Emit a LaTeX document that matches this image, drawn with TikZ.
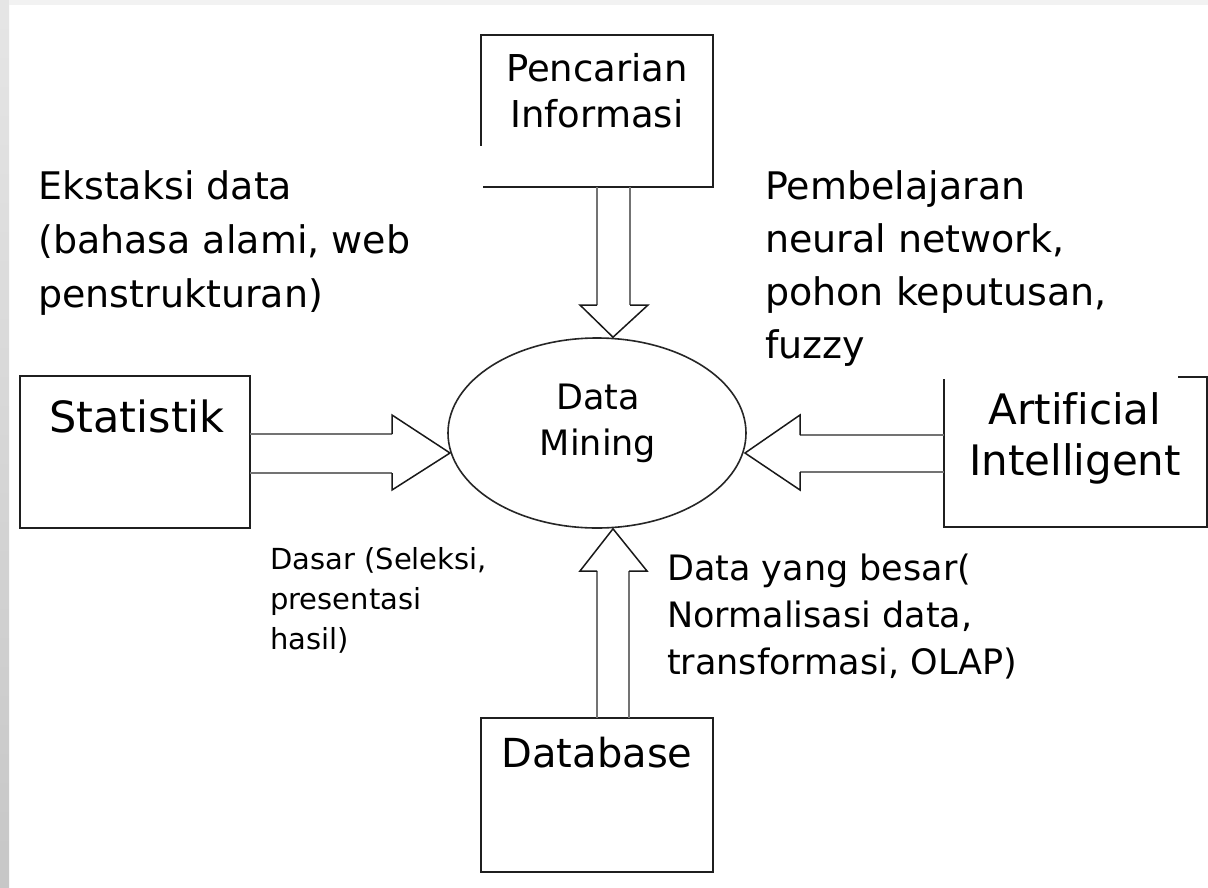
\documentclass[tikz,border=0pt]{standalone}
\usepackage{fontspec}
\setmainfont[Ligatures=NoCommon]{DejaVu Sans}
\usetikzlibrary{calc,shapes.geometric}
\begin{document}
\begin{tikzpicture}[x=1pt,y=-1pt,
  boxarea/.style={inner sep=0pt, outer sep=0pt},
  frameline/.style={draw=black!88, line width=2pt, line join=miter},
  shaft/.style={draw=black!55, line width=2.6pt},
  head/.style={draw=black!90, line width=1.5pt, line join=miter},
  boxtext/.style={inner sep=0pt, anchor=north, align=center},
  note/.style={inner sep=0pt, anchor=north west, align=left},
]
\useasboundingbox (0,0) rectangle (1208,887);
\fill[white] (0,0) rectangle (1208,887);
% soft grey page edge
\shade[top color=gray!20, bottom color=gray!44] (0,0) rectangle (9,887);
\fill[gray!10] (9,0) rectangle (1208,5);

% box areas
\node[boxarea, minimum width=232pt, minimum height=152pt] (pen) at (597,111) {};
\node[boxarea, minimum width=230pt, minimum height=152pt] (stat) at (135,452) {};
\node[boxarea, minimum width=263pt, minimum height=150pt] (ai) at (1075.5,452) {};
\node[boxarea, minimum width=232pt, minimum height=154pt] (db) at (597,795) {};
\node[ellipse, draw=black!85, line width=1.6pt, inner sep=0pt,
      minimum width=298pt, minimum height=190pt] (dm) at (597,433) {};

% box borders (some sides drawn only partly)
\draw[frameline] ($(pen.south west)+(2,0)$) -- (pen.south east) -- (pen.north east)
  -- (pen.north west) -- ($(pen.north west)!0.73!(pen.south west)$);
\draw[frameline] (stat.north west) rectangle (stat.south east);
\draw[frameline] ($(ai.north east)+(-29,0)$) -- (ai.north east) -- (ai.south east)
  -- (ai.south west) -- ($(ai.north west)+(0,2)$);
\draw[frameline] (db.north west) rectangle (db.south east);

% texts inside the boxes
\node[boxtext, font=\fontsize{37}{46}\selectfont] (pent) at (597,53) {Pencarian\\Informasi};
\node[boxtext, font=\fontsize{35}{46}\selectfont] (dmt) at (598,384) {Data\\Mining};
\node[boxtext, font=\fontsize{43}{50}\selectfont] (statt) at (137,400) {Statistik};
\node[boxtext, font=\fontsize{42}{51}\selectfont] (ait) at (1075,392) {Artificial\\Intelligent};
\node[boxtext, font=\fontsize{40}{50}\selectfont] (dbt) at (597,737) {Database};

% side notes
\node[note, font=\fontsize{38}{54}\selectfont] (ekst) at (38,170)
  {Ekstaksi data\\(bahasa alami, web\\penstrukturan)};
\node[note, font=\fontsize{38}{53.3}\selectfont] (pemb) at (765,170)
  {Pembelajaran\\neural network,\\pohon keputusan,\\fuzzy};
\node[note, font=\fontsize{29}{40}\selectfont] (dasar) at (270,547)
  {Dasar (Seleksi,\\presentasi\\hasil)};
\node[note, font=\fontsize{35}{47}\selectfont] (besar) at (667,554)
  {Data yang besar(\\Normalisasi data,\\transformasi, OLAP)};

% hollow arrows into Data Mining
% from Pencarian Informasi (down)
\draw[shaft] (pen.south) -- ++(0,118) coordinate (d1);
\draw[shaft] ($(pen.south)+(33,0)$) -- ++(0,118) coordinate (d2);
\draw[head] (d1) -- ++(-17,0) -- ($(dm.north)+(16,0)$) -- ($(d2)+(18,0)$) -- (d2);
% from Database (up)
\draw[shaft] (db.north) -- ++(0,-147) coordinate (u1);
\draw[shaft] ($(db.north)+(32,0)$) -- ++(0,-147) coordinate (u2);
\draw[head] (u1) -- ++(-17,0) -- ($(dm.south)+(16,0)$) -- ($(u2)+(18,0)$) -- (u2);
% from Statistik (right)
\draw[shaft] ($(stat.east)+(0,-18)$) -- ++(142,0) coordinate (r1);
\draw[shaft] ($(stat.east)+(0,21)$) -- ++(142,0) coordinate (r2);
\draw[head] (r1) -- ++(0,-19) -- ($(dm.center)+(-147,20)$) -- ($(r2)+(0,17)$) -- (r2);
% from Artificial Intelligent (left)
\draw[shaft] ($(ai.west)+(0,-17)$) -- ++(-144,0) coordinate (l1);
\draw[shaft] ($(ai.west)+(0,20)$) -- ++(-144,0) coordinate (l2);
\draw[head] (l1) -- ++(0,-20) -- ($(dm.center)+(148,20)$) -- ($(l2)+(0,18)$) -- (l2);
\end{tikzpicture}
\end{document}
